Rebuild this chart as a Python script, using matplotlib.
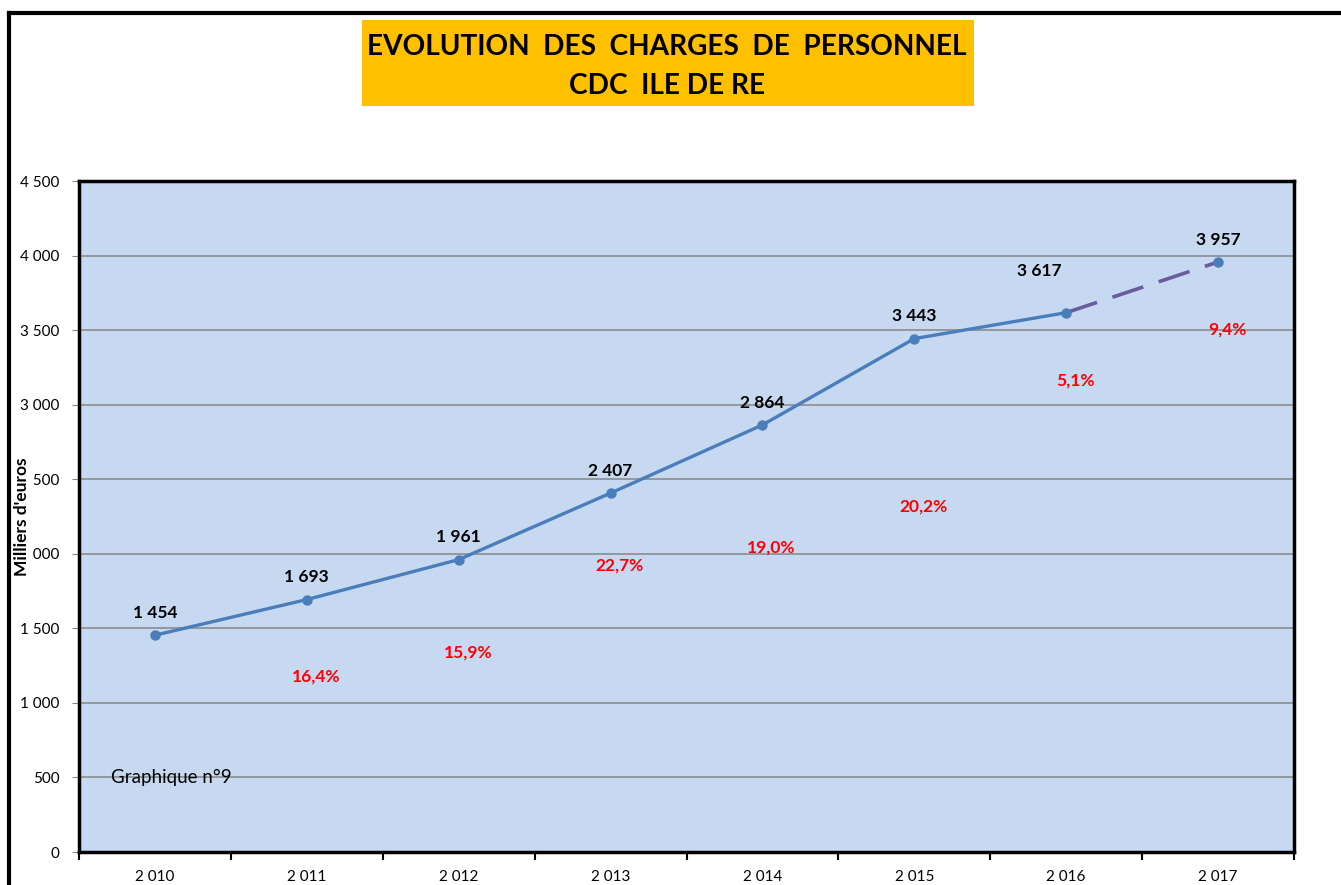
import numpy as np
import matplotlib
matplotlib.use("Agg")
import matplotlib.pyplot as plt
from matplotlib.patches import Rectangle
from matplotlib.lines import Line2D

plt.rcParams['font.family'] = ['Lato', 'DejaVu Sans']

# data
years = ["2 010", "2 011", "2 012", "2 013", "2 014", "2 015", "2 016", "2 017"]
charges = [1454, 1693, 1961, 2407, 2864, 3443, 3617, 3957]
value_labels = ["1 454", "1 693", "1 961", "2 407", "2 864", "3 443", "3 617", "3 957"]
pct_labels = ["16,4%", "15,9%", "22,7%", "19,0%", "20,2%", "5,1%", "9,4%"]
pct_ypos = [1174, 1341, 1918, 2045, 2320, 3159, 3507]
yticks = np.arange(0, 4501, 500)
ytick_labels = ["0", "500", "1 000", "1 500", "2 000", "2 500", "3 000", "3 500", "4 000", "4 500"]

fig = plt.figure(figsize=(13.41, 8.85), dpi=100)
W, H = 1341, 885
ax = fig.add_axes([79 / W, 1 - 852 / H, (1294 - 79) / W, (852 - 181) / H])
ax.set_facecolor('#C6D9F1')

x = np.arange(len(years))
# solid part up to 2016, dashed forecast to 2017
ax.plot(x[:-1], charges[:-1], color='#4A7EBB', lw=2.4, zorder=3)
ax.plot(x[-2:], charges[-2:], color='#675D9E', lw=2.6, dashes=(9, 4.5), zorder=3)
ax.plot(x, charges, 'o', color='#4A7EBB', ms=6.5, zorder=4)

# value labels above the points
for i, (v, lab) in enumerate(zip(charges, value_labels)):
    dx = -0.18 if i == 6 else 0
    dy = 280 if i == 6 else 150
    ax.text(i + dx, v + dy, lab, ha='center', va='center', fontsize=12.5,
            fontweight='bold', color='black', zorder=5)

# growth percentages
for i, (p, yp) in enumerate(zip(pct_labels, pct_ypos)):
    ax.text(i + 1.06, yp, p, ha='center', va='center', fontsize=12.5,
            fontweight='bold', color='#FF0000', zorder=5)

ax.text(-0.29, 500, "Graphique n°9", ha='left', va='center', fontsize=13.5, zorder=5)

ax.set_xlim(-0.5, len(years) - 0.5)
ax.set_ylim(0, 4500)
ax.set_yticks(yticks)
ax.set_yticklabels(ytick_labels, fontsize=11)
ax.yaxis.grid(True, color='#868686', lw=1.1)
ax.set_axisbelow(True)
ax.tick_params(axis='y', length=5, color='#868686', pad=9)

ax.set_xticks(x)
ax.set_xticklabels(years, fontsize=11)
ax.set_xticks(np.arange(-0.5, len(years), 1), minor=True)
ax.tick_params(axis='x', which='major', length=0, pad=13)
ax.tick_params(axis='x', which='minor', length=6, width=1.5, color='black')

for s in ax.spines.values():
    s.set_linewidth(2.5)
    s.set_color('black')

# y label with white background overlapping tick labels
fig.text(22 / W, 1 - 517 / H, "Milliers d'euros", rotation=90, ha='center', va='center',
         fontsize=12.5, fontweight='bold',
         bbox=dict(facecolor='white', edgecolor='none', pad=0.3), zorder=10)

# title box
fig.patches.append(Rectangle((362 / W, 1 - 106 / H), (974 - 362) / W, (106 - 20) / H,
                             transform=fig.transFigure, facecolor='#FFC000',
                             edgecolor='none', zorder=0))
fig.text(667 / W, 1 - 47 / H, "EVOLUTION  DES  CHARGES  DE  PERSONNEL", ha='center',
         va='center', fontsize=20.2, fontweight='bold')
fig.text(667 / W, 1 - 86 / H, "CDC  ILE DE RE", ha='center', va='center',
         fontsize=20.2, fontweight='bold')

# outer frame lines (top and left)
fig.lines.append(Line2D([9 / W, 1], [1 - 13 / H, 1 - 13 / H], transform=fig.transFigure,
                        color='black', lw=3))
fig.lines.append(Line2D([9 / W, 9 / W], [0, 1 - 13 / H], transform=fig.transFigure,
                        color='black', lw=3))

fig.savefig("out.png", dpi=100)
